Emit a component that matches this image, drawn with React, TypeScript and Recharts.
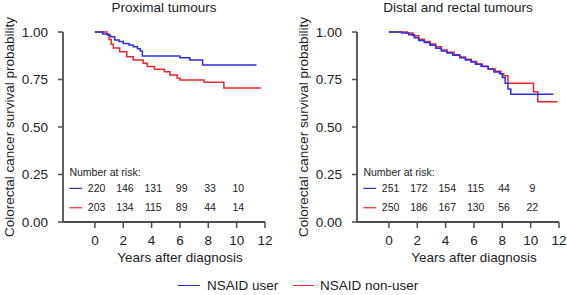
import { Label, Line, LineChart, ReferenceDot, ReferenceLine, XAxis, YAxis } from "recharts";

const FONT = '"Liberation Sans", Arial, Helvetica, sans-serif';
const BLUE = "#2e2ee0";
const RED = "#e8262b";
const AXIS = "#4d4d4d";

// Kaplan-Meier steps (years, survival)
const proxUserT = [0, 0.55, 0.9, 1.1, 1.4, 1.7, 2.0, 2.4, 2.7, 3.0, 3.2, 3.35, 6.0, 6.7, 7.6, 11.4];
const proxUserS = [1, 0.99, 0.983, 0.975, 0.958, 0.95, 0.94, 0.932, 0.923, 0.912, 0.9, 0.874, 0.865, 0.853, 0.826, 0.826];
const proxNonT = [0, 0.85, 1.0, 1.15, 1.3, 1.75, 2.25, 2.7, 3.4, 3.7, 4.2, 4.9, 5.3, 5.8, 6.0, 7.7, 9.1, 11.7];
const proxNonS = [1, 0.99, 0.96, 0.935, 0.916, 0.896, 0.87, 0.853, 0.835, 0.818, 0.804, 0.791, 0.774, 0.756, 0.747, 0.735, 0.705, 0.705];

const distUserT = [0, 0.9, 1.4, 1.8, 2.1, 2.5, 2.9, 3.3, 3.7, 4.1, 4.5, 5.0, 5.4, 5.8, 6.1, 6.5, 7.0, 7.4, 7.8, 8.0, 8.2, 8.4, 8.6, 11.6];
const distUserS = [1, 0.995, 0.985, 0.97, 0.955, 0.945, 0.93, 0.915, 0.9, 0.89, 0.878, 0.865, 0.852, 0.842, 0.83, 0.82, 0.805, 0.79, 0.78, 0.76, 0.73, 0.7, 0.672, 0.672];
const distNonT = [0, 1.3, 1.7, 2.1, 2.5, 2.9, 3.3, 3.7, 4.1, 4.6, 5.0, 5.4, 5.8, 6.2, 6.6, 7.0, 7.5, 7.9, 8.1, 8.4, 10.2, 10.5, 11.9];
const distNonS = [1, 0.995, 0.98, 0.962, 0.95, 0.937, 0.922, 0.905, 0.893, 0.88, 0.868, 0.856, 0.845, 0.832, 0.818, 0.805, 0.793, 0.78, 0.77, 0.73, 0.686, 0.633, 0.633];

const riskTimes = [0, 2, 4, 6, 8, 10];
const proxRiskUser = [220, 146, 131, 99, 33, 10];
const proxRiskNon = [203, 134, 115, 89, 44, 14];
const distRiskUser = [251, 172, 154, 115, 44, 9];
const distRiskNon = [250, 186, 167, 130, 56, 22];

const xTicks = [0, 2, 4, 6, 8, 10, 12];
const yTicks = [0, 0.25, 0.5, 0.75, 1];
const X_MIN = -2.25;
const X_MAX = 12;

const toPoints = (t: number[], s: number[]) => t.map((v, i) => ({ t: v, s: s[i] }));

const yLabel = (props: any) => {
  const vb = props.viewBox;
  const cx = vb.x + 9;
  const cy = vb.y + vb.height / 2;
  return (
    <text x={cx} y={cy} transform={`rotate(-90 ${cx} ${cy})`} textAnchor="middle" dominantBaseline="central" fontSize={13.5} fill="#222" fontFamily={FONT}>
      Colorectal cancer survival probability
    </text>
  );
};

const xLabel = (props: any) => {
  const vb = props.viewBox;
  const cx = vb.x + (vb.width * (6 - X_MIN)) / (X_MAX - X_MIN);
  return (
    <text x={cx} y={vb.y + 40} textAnchor="middle" fontSize={13.5} fill="#222" fontFamily={FONT}>
      Years after diagnosis
    </text>
  );
};

interface PanelProps {
  title: string;
  userT: number[];
  userS: number[];
  nonT: number[];
  nonS: number[];
  riskUser: number[];
  riskNon: number[];
  left: number;
  width: number;
  marginRight: number;
}

function Panel({ title, userT, userS, nonT, nonS, riskUser, riskNon, left, width, marginRight }: PanelProps) {
  const riskLabel = (v: number) => ({ value: String(v), position: "center" as const, fontSize: 10.5, fill: "#222" });
  const plotLeft = 63;
  const plotW = width - plotLeft - marginRight;
  return (
    <div style={{ position: "absolute", left, top: 0, width, height: 270 }}>
      <div
        style={{
          position: "absolute",
          left: plotLeft,
          width: plotW,
          top: 0,
          lineHeight: "16px",
          textAlign: "center",
          fontSize: 13.5,
          color: "#222",
        }}
      >
        {title}
      </div>
      <LineChart width={width} height={270} margin={{ top: 32, right: marginRight, bottom: 12, left: 0 }} style={{ fontFamily: FONT }}>
        <XAxis
          type="number"
          dataKey="t"
          domain={[X_MIN, X_MAX]}
          ticks={xTicks}
          allowDataOverflow
          height={36}
          tickSize={6}
          tickMargin={7}
          tick={{ fontSize: 13.5, fill: "#222" }}
          axisLine={{ stroke: AXIS, strokeWidth: 1.8 }}
          tickLine={{ stroke: AXIS, strokeWidth: 1.5 }}
        >
          <Label content={xLabel} />
        </XAxis>
        <YAxis
          type="number"
          dataKey="s"
          domain={[0, 1]}
          ticks={yTicks}
          width={63}
          tickSize={5}
          tickMargin={10}
          tickFormatter={(v: number) => v.toFixed(2)}
          tick={{ fontSize: 13.5, fill: "#222" }}
          axisLine={{ stroke: AXIS, strokeWidth: 1.8 }}
          tickLine={{ stroke: AXIS, strokeWidth: 1.5 }}
        >
          <Label content={yLabel} />
        </YAxis>
        <Line data={toPoints(nonT, nonS)} dataKey="s" type="stepAfter" stroke={RED} strokeWidth={1.5} dot={false} isAnimationActive={false} />
        <Line data={toPoints(userT, userS)} dataKey="s" type="stepAfter" stroke={BLUE} strokeWidth={1.5} dot={false} isAnimationActive={false} />
        <ReferenceDot x={-1.8} y={0.263} r={0} fill="none" stroke="none" label={{ value: "Number at risk:", position: "right", offset: 0, fontSize: 10.5, fill: "#222" }} />
        <ReferenceLine segment={[{ x: -1.8, y: 0.177 }, { x: -0.9, y: 0.177 }]} stroke={BLUE} strokeWidth={1.2} />
        <ReferenceLine segment={[{ x: -1.8, y: 0.075 }, { x: -0.9, y: 0.075 }]} stroke={RED} strokeWidth={1.2} />
        {riskTimes.map((t, i) => (
          <ReferenceDot key={"u" + t} x={t + 0.12} y={0.177} r={0} fill="none" stroke="none" label={riskLabel(riskUser[i])} />
        ))}
        {riskTimes.map((t, i) => (
          <ReferenceDot key={"n" + t} x={t + 0.12} y={0.075} r={0} fill="none" stroke="none" label={riskLabel(riskNon[i])} />
        ))}
      </LineChart>
    </div>
  );
}

export default function App() {
  return (
    <div style={{ position: "absolute", left: 0, top: 0, width: 567, height: 295, background: "#fff", fontFamily: FONT, overflow: "hidden" }}>
      <Panel
        title="Proximal tumours"
        userT={proxUserT}
        userS={proxUserS}
        nonT={proxNonT}
        nonS={proxNonS}
        riskUser={proxRiskUser}
        riskNon={proxRiskNon}
        left={0}
        width={283}
        marginRight={18}
      />
      <Panel
        title="Distal and rectal tumours"
        userT={distUserT}
        userS={distUserS}
        nonT={distNonT}
        nonS={distNonS}
        riskUser={distRiskUser}
        riskNon={distRiskNon}
        left={294}
        width={273}
        marginRight={8}
      />
      <div style={{ position: "absolute", left: 178, top: 277, height: 17, display: "flex", alignItems: "center", fontSize: 13.5, color: "#222" }}>
        <span style={{ display: "inline-block", width: 22, height: 0, borderTop: `1.5px solid ${BLUE}`, marginRight: 7 }} />
        <span>NSAID user</span>
      </div>
      <div style={{ position: "absolute", left: 293, top: 277, height: 17, display: "flex", alignItems: "center", fontSize: 13.5, color: "#222" }}>
        <span style={{ display: "inline-block", width: 21, height: 0, borderTop: `1.5px solid ${RED}`, marginRight: 6 }} />
        <span>NSAID non-user</span>
      </div>
    </div>
  );
}
